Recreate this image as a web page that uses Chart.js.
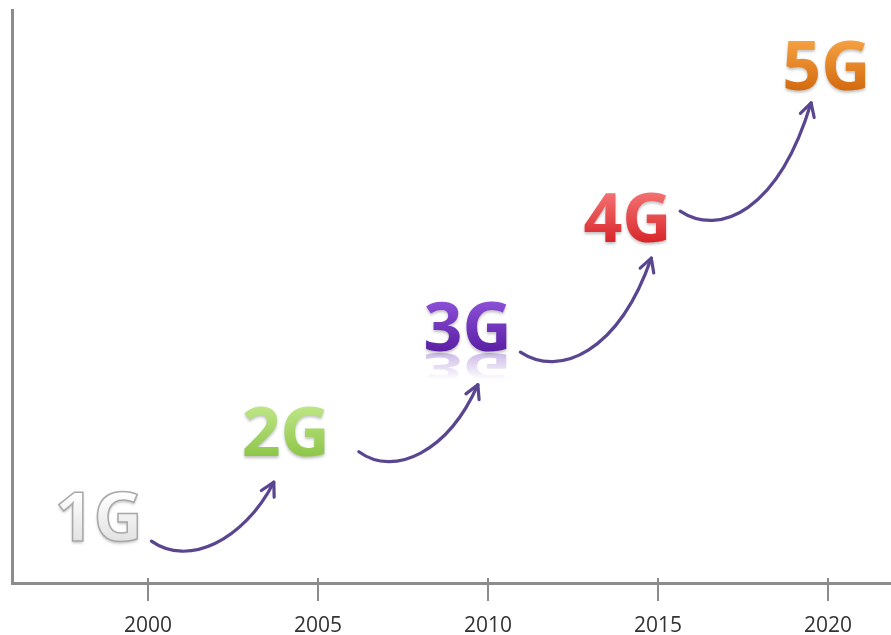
<!DOCTYPE html>
<html>
<head>
<meta charset="utf-8">
<script src="https://cdn.jsdelivr.net/npm/chart.js@4.4.1/dist/chart.umd.min.js"></script>
<style>
html, body { margin: 0; padding: 0; background: #fff; }
</style>
</head>
<body>
<canvas id="grafica-generaciones" width="891" height="635"></canvas>
<script>
// generaciones moviles (anio, nivel)
var generaciones = ['1G', '2G', '3G', '4G', '5G'];
var anios = [1998.55, 2004.05, 2009.4, 2014.1, 2019.95];
var niveles = [11.5, 26.4, 44.7, 63.7, 90.2];

// flechas entre generaciones
var flechaInicioAnio = [2000.1, 2006.2, 2010.95, 2015.65];
var flechaInicioNivel = [7.3, 22.9, 40.3, 64.9];
var flechaFinAnio = [2003.7, 2009.7, 2014.8, 2019.5];
var flechaFinNivel = [17.6, 34.6, 56.7, 83.8];

var aniosEje = [2000, 2005, 2010, 2015, 2020];

var estilos = {
    '1G': { top: '#ffffff', bottom: '#e2e2e2', stroke: '#a8a8a8' },
    '2G': { top: '#bde585', bottom: '#8ec64a', stroke: null },
    '3G': { top: '#8a4fd6', bottom: '#5a1fa3', stroke: null, reflejo: true },
    '4G': { top: '#f47070', bottom: '#d8262b', stroke: null },
    '5G': { top: '#f4a040', bottom: '#d46a10', stroke: null }
};

var gris = '#8c8c8c';
var fuente = '"Open Sans", "DejaVu Sans", sans-serif';

var pluginGeneraciones = {
    id: 'generaciones',
    afterDraw: function(chart) {
        var ctx = chart.ctx;
        var sx = chart.scales.x, sy = chart.scales.y;
        var area = chart.chartArea;

        // marcas del eje por encima de la linea
        ctx.save();
        ctx.strokeStyle = gris;
        ctx.lineWidth = 2;
        aniosEje.forEach(function(a) {
            var px = Math.round(sx.getPixelForValue(a));
            ctx.beginPath();
            ctx.moveTo(px, area.bottom - 5);
            ctx.lineTo(px, area.bottom);
            ctx.stroke();
        });
        ctx.restore();

        // flechas
        ctx.save();
        ctx.strokeStyle = '#5a4690';
        ctx.lineWidth = 3.2;
        ctx.lineCap = 'round';
        ctx.lineJoin = 'round';
        for (var i = 0; i < flechaInicioAnio.length; i++) {
            var x0 = sx.getPixelForValue(flechaInicioAnio[i]);
            var y0 = sy.getPixelForValue(flechaInicioNivel[i]);
            var x3 = sx.getPixelForValue(flechaFinAnio[i]);
            var y3 = sy.getPixelForValue(flechaFinNivel[i]);
            var dx = x3 - x0, dy = y0 - y3;
            var c1x = x0 + 0.3 * dx, c1y = y0 + 26;
            var c2x = x3 - 0.25 * dx, c2y = y3 + dy;
            ctx.beginPath();
            ctx.moveTo(x0, y0);
            ctx.bezierCurveTo(c1x, c1y, c2x, c2y, x3, y3);
            ctx.stroke();

            var ang = Math.atan2(y3 - c2y, x3 - c2x);
            var len = 15, ab = 0.5;
            ctx.beginPath();
            ctx.moveTo(x3 - len * Math.cos(ang - ab), y3 - len * Math.sin(ang - ab));
            ctx.lineTo(x3, y3);
            ctx.lineTo(x3 - len * Math.cos(ang + ab), y3 - len * Math.sin(ang + ab));
            ctx.stroke();
        }
        ctx.restore();

        // etiquetas 1G..5G
        var meta = chart.getDatasetMeta(0);
        var size = 68;
        ctx.save();
        ctx.font = 'bold ' + size + 'px ' + fuente;
        ctx.textAlign = 'center';
        ctx.textBaseline = 'alphabetic';
        meta.data.forEach(function(el, j) {
            var txt = generaciones[j];
            var st = estilos[txt];
            var base = el.y + size * 0.357;
            var grad = ctx.createLinearGradient(0, base - size * 0.72, 0, base);
            grad.addColorStop(0, st.top);
            grad.addColorStop(1, st.bottom);

            if (st.reflejo) {
                ctx.save();
                ctx.translate(el.x, base + 2);
                ctx.scale(1, -0.55);
                var gr = ctx.createLinearGradient(0, 0, 0, -size * 0.72);
                gr.addColorStop(0, 'rgba(110,60,190,0.35)');
                gr.addColorStop(1, 'rgba(110,60,190,0)');
                ctx.fillStyle = gr;
                ctx.fillText(txt, 0, 0);
                ctx.restore();
            }

            ctx.save();
            ctx.shadowColor = 'rgba(0,0,0,0.25)';
            ctx.shadowBlur = 3;
            ctx.shadowOffsetY = 2;
            ctx.fillStyle = grad;
            ctx.fillText(txt, el.x, base);
            ctx.restore();
            if (st.stroke) {
                ctx.strokeStyle = st.stroke;
                ctx.lineWidth = 1.5;
                ctx.strokeText(txt, el.x, base);
            }
        });
        ctx.restore();
    }
};

var puntos = anios.map(function(a, i) { return { x: a, y: niveles[i] }; });

var ctx = document.getElementById('grafica-generaciones').getContext('2d');
new Chart(ctx, {
    type: 'scatter',
    data: {
        datasets: [{
            label: 'Generaciones',
            data: puntos,
            pointRadius: 0,
            pointHoverRadius: 0
        }]
    },
    options: {
        responsive: false,
        animation: false,
        events: [],
        layout: { padding: { left: 12, top: 10, right: 0, bottom: 0 } },
        plugins: { legend: { display: false }, tooltip: { enabled: false } },
        scales: {
            x: {
                type: 'linear',
                min: 1996,
                max: 2021.85,
                afterBuildTicks: function(s) {
                    s.ticks = aniosEje.map(function(v) { return { value: v }; });
                },
                afterFit: function(s) { s.height = 52; },
                grid: { drawOnChartArea: false, drawTicks: true, tickLength: 18, color: gris, lineWidth: 2 },
                border: { display: true, color: gris, width: 3 },
                ticks: {
                    padding: 12,
                    color: '#333',
                    maxRotation: 0,
                    autoSkip: false,
                    font: { family: fuente, size: 21 },
                    callback: function(v) { return String(v); }
                }
            },
            y: {
                min: 0,
                max: 100,
                afterFit: function(s) { s.width = 0; },
                ticks: { display: false },
                grid: { display: false },
                border: { display: true, color: gris, width: 3 }
            }
        }
    },
    plugins: [pluginGeneraciones]
});
</script>
</body>
</html>
